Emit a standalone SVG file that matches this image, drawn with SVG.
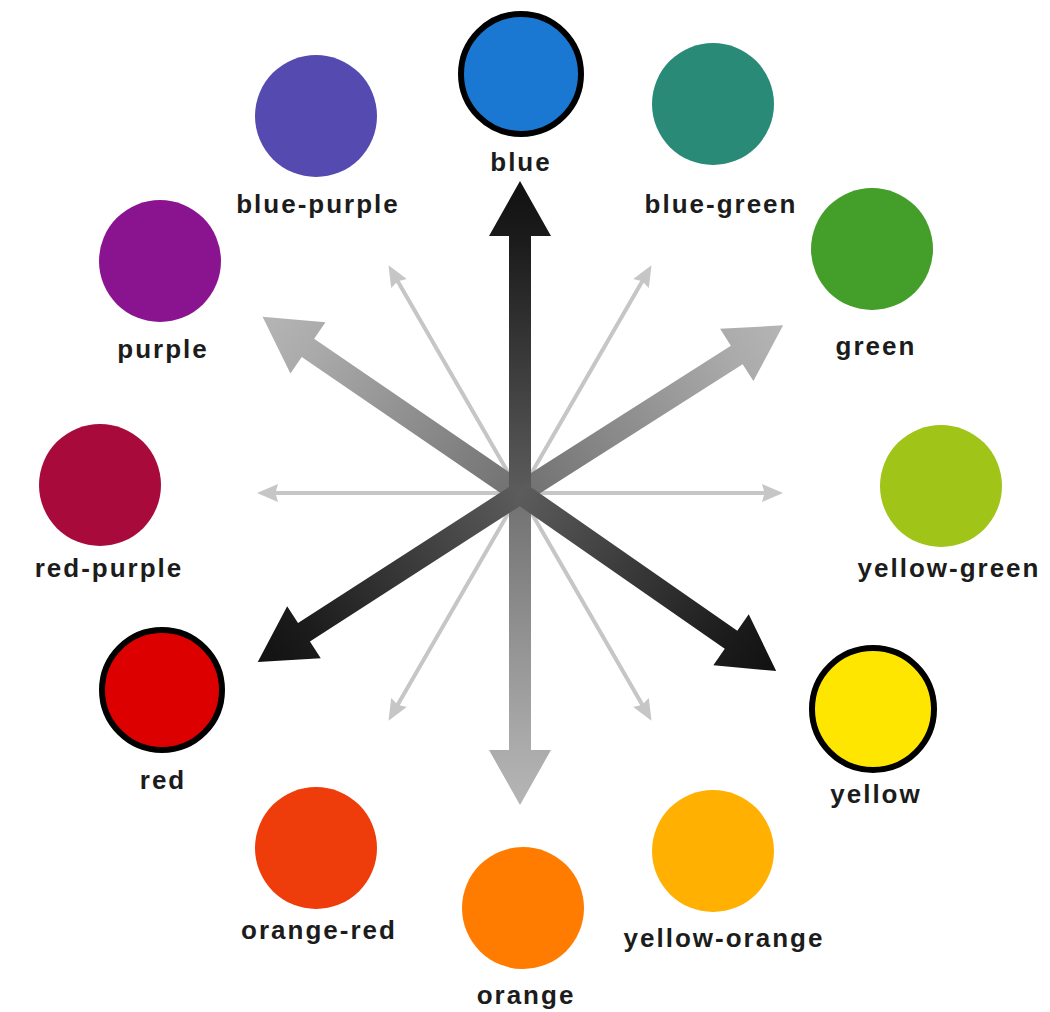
<svg xmlns="http://www.w3.org/2000/svg" width="1050" height="1012" viewBox="0 0 1050 1012">
<style>
.lbl{font-family:"Liberation Sans",Arial,sans-serif;font-weight:bold;font-size:26px;letter-spacing:2px;fill:#1c1c1c;text-anchor:middle}
.thin{fill:#c6c6c6}
</style>
<defs>
<linearGradient id="gDark" gradientUnits="userSpaceOnUse" x1="0" y1="0" x2="312" y2="0">
<stop offset="0" stop-color="#5c5c5c"/><stop offset="0.8" stop-color="#1c1c1c"/><stop offset="1" stop-color="#111"/>
</linearGradient>
<linearGradient id="gLight" gradientUnits="userSpaceOnUse" x1="0" y1="0" x2="312" y2="0">
<stop offset="0" stop-color="#707070"/><stop offset="0.8" stop-color="#aaaaaa"/><stop offset="1" stop-color="#b5b5b5"/>
</linearGradient>
<polygon id="thick" points="0,-11 257,-11 257,-31 312,0 257,31 257,11 0,11"/>
<polygon id="thinA" points="0,-2 244,-2 242,-9 263,0 242,9 244,2 0,2"/>
</defs>
<g id="connectors" transform="translate(520,493)">
<use href="#thinA" class="thin" transform="rotate(-120)"/>
<use href="#thinA" class="thin" transform="rotate(-60)"/>
<use href="#thinA" class="thin" transform="rotate(180)"/>
<use href="#thinA" class="thin" transform="rotate(0)"/>
<use href="#thinA" class="thin" transform="rotate(120)"/>
<use href="#thinA" class="thin" transform="rotate(60)"/>
<use href="#thick" fill="url(#gLight)" transform="rotate(-145.6)"/>
<use href="#thick" fill="url(#gLight)" transform="rotate(-32.5)"/>
<use href="#thick" fill="url(#gLight)" transform="rotate(90)"/>
<use href="#thick" fill="url(#gDark)" transform="rotate(-90)"/>
<use href="#thick" fill="url(#gDark)" transform="rotate(147.2)"/>
<use href="#thick" fill="url(#gDark)" transform="rotate(34.8)"/>
</g>
<g id="blue"><circle cx="521" cy="74" r="60" fill="#1a78d2" stroke="#000" stroke-width="6"/><text class="lbl" x="521" y="171">blue</text></g>
<g id="blue-green"><circle cx="713" cy="104" r="61" fill="#2a8a78"/><text class="lbl" x="721" y="213">blue-green</text></g>
<g id="green"><circle cx="872" cy="249" r="61" fill="#449e2a"/><text class="lbl" x="876" y="355">green</text></g>
<g id="yellow-green"><circle cx="941" cy="486" r="61" fill="#a0c418"/><text class="lbl" x="949" y="577">yellow-green</text></g>
<g id="yellow"><circle cx="873" cy="709" r="61" fill="#ffe600" stroke="#000" stroke-width="6"/><text class="lbl" x="876" y="803">yellow</text></g>
<g id="yellow-orange"><circle cx="713" cy="851" r="61" fill="#ffb000"/><text class="lbl" x="724" y="947">yellow-orange</text></g>
<g id="orange"><circle cx="523" cy="908" r="61" fill="#ff7c00"/><text class="lbl" x="526" y="1004">orange</text></g>
<g id="orange-red"><circle cx="316" cy="848" r="61" fill="#ee3c0a"/><text class="lbl" x="319" y="939">orange-red</text></g>
<g id="red"><circle cx="162" cy="690" r="60" fill="#dd0000" stroke="#000" stroke-width="6"/><text class="lbl" x="163" y="789">red</text></g>
<g id="red-purple"><circle cx="100" cy="485" r="61" fill="#a80a3c"/><text class="lbl" x="109" y="577">red-purple</text></g>
<g id="purple"><circle cx="160" cy="261" r="61" fill="#8a1490"/><text class="lbl" x="163" y="358">purple</text></g>
<g id="blue-purple"><circle cx="316" cy="116" r="61" fill="#544ab0"/><text class="lbl" x="318" y="213">blue-purple</text></g>
</svg>
